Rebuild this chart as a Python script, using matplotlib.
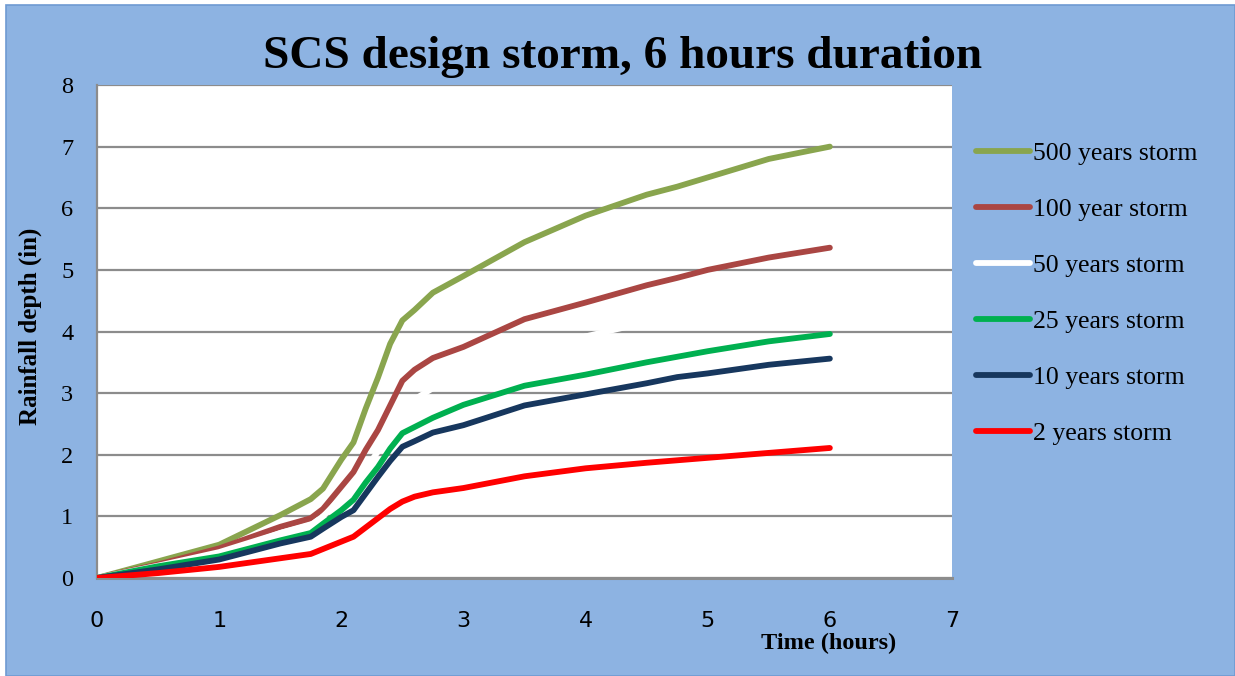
"""SCS design storm, 6 hours duration - cumulative rainfall curves."""
import matplotlib
matplotlib.use('Agg')
import matplotlib.pyplot as plt
from matplotlib.patches import Rectangle
from matplotlib import font_manager

# Data
time_h = [0, 0.5, 1.0, 1.5, 1.75, 1.85, 2.0, 2.1, 2.2, 2.3, 2.4, 2.5, 2.6, 2.75,
          3.0, 3.5, 4.0, 4.5, 4.75, 5.0, 5.5, 6.0]
storm_500 = [0, 0.27, 0.54, 1.02, 1.28, 1.45, 1.92, 2.2, 2.75, 3.25, 3.8, 4.18, 4.35, 4.63,
             4.9, 5.45, 5.88, 6.22, 6.35, 6.5, 6.8, 7.0]
storm_100 = [0, 0.22, 0.48, 0.83, 0.97, 1.12, 1.48, 1.72, 2.08, 2.4, 2.8, 3.2, 3.38, 3.57,
             3.75, 4.2, 4.47, 4.75, 4.87, 5.0, 5.2, 5.36]
storm_50 = [0, 0.2, 0.42, 0.73, 0.86, 1.0, 1.3, 1.5, 1.78, 2.05, 2.4, 2.75, 2.9, 3.08,
            3.27, 3.66, 3.92, 4.15, 4.25, 4.35, 4.52, 4.65]
storm_25 = [0, 0.19, 0.35, 0.61, 0.73, 0.88, 1.1, 1.27, 1.55, 1.8, 2.1, 2.35, 2.45, 2.6,
            2.81, 3.12, 3.3, 3.5, 3.59, 3.68, 3.84, 3.96]
storm_10 = [0, 0.14, 0.3, 0.56, 0.67, 0.8, 0.99, 1.1, 1.37, 1.64, 1.9, 2.13, 2.22, 2.36,
            2.48, 2.8, 2.98, 3.16, 3.26, 3.32, 3.46, 3.56]
storm_2 = [0, 0.08, 0.18, 0.32, 0.39, 0.47, 0.59, 0.67, 0.82, 0.97, 1.12, 1.24, 1.32, 1.39,
           1.46, 1.65, 1.78, 1.87, 1.91, 1.95, 2.03, 2.11]

series_labels = ['500 years storm', '100 year storm', '50 years storm',
                 '25 years storm', '10 years storm', '2 years storm']
series_values = [storm_500, storm_100, storm_50, storm_25, storm_10, storm_2]
series_colors = ['#89A54E', '#AA4643', '#FFFFFF', '#00B050', '#17375E', '#FF0000']

serif = ['Liberation Serif', 'DejaVu Serif']
installed = {f.name for f in font_manager.fontManager.ttflist}
tick_sans = 'Liberation Sans Narrow' if 'Liberation Sans Narrow' in installed else 'DejaVu Sans'

W, H = 1235, 676
fig = plt.figure(figsize=(W / 100, H / 100), dpi=100, facecolor='white')

# chart area background
fig.patches.append(Rectangle((6 / W, 0), 1 - 6 / W, 1 - 5 / H, transform=fig.transFigure,
                             facecolor='#8DB3E2', edgecolor='#6E9AD2', linewidth=1.2,
                             zorder=-10))

ax = fig.add_axes([97 / W, 1 - 578 / H, (952 - 97) / W, (578 - 85) / H])
ax.set_facecolor('white')

for vals, lab, col in zip(series_values, series_labels, series_colors):
    ax.plot(time_h, vals, color=col, lw=4.2, label=lab, solid_capstyle='round',
            solid_joinstyle='round', zorder=3)

ax.set_xlim(0, 7)
ax.set_ylim(0, 8)
ax.set_xticks(range(0, 8))
ax.set_yticks(range(0, 9))
ax.yaxis.grid(True, color='#8C8C8C', lw=1.6, zorder=1)
ax.set_axisbelow(True)
ax.tick_params(length=0)
ax.tick_params(axis='y', pad=17, labelsize=17.5)
ax.tick_params(axis='x', pad=24, labelsize=16)
for lbl in ax.get_yticklabels():
    lbl.set_family(serif)
for lbl in ax.get_xticklabels():
    lbl.set_family(tick_sans)

for side in ['top', 'right']:
    ax.spines[side].set_visible(False)
ax.spines['left'].set_color('#8C8C8C')
ax.spines['left'].set_linewidth(1.6)
ax.spines['bottom'].set_color('#8C8C8C')
ax.spines['bottom'].set_linewidth(2.2)

fig.text(623 / W, 1 - 57 / H, 'SCS design storm, 6 hours duration', ha='center', va='center',
         fontsize=34, fontweight='bold', family=serif)
fig.text(829 / W, 1 - 643 / H, 'Time (hours)', ha='center', va='center',
         fontsize=17.5, fontweight='bold', family=serif)
fig.text(30 / W, 1 - 326 / H, 'Rainfall depth (in)', ha='center', va='center', rotation=90,
         fontsize=18, fontweight='bold', family=serif)

leg = ax.legend(loc='upper left', bbox_to_anchor=(966 / W, 1 - 132 / H),
                bbox_transform=fig.transFigure, frameon=False,
                prop={'family': serif, 'size': 18.5}, handlelength=2.1,
                handletextpad=0.12, labelspacing=1.28, borderaxespad=0)
for line in leg.get_lines():
    line.set_linewidth(4.2)

plt.savefig('out.png', dpi=100, facecolor=fig.get_facecolor())
print('OK: out.png')
